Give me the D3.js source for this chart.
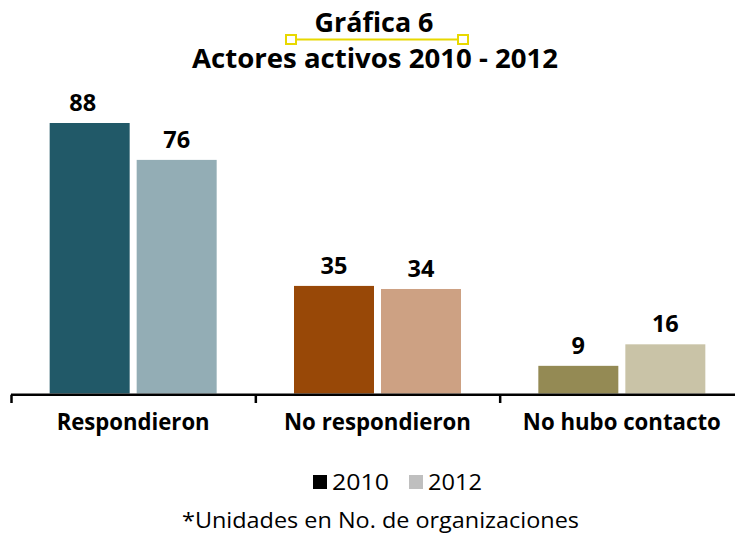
<!DOCTYPE html>
<html>
<head>
<meta charset="utf-8">
<script src="https://cdn.jsdelivr.net/npm/d3@7"></script>
<style>
  html, body { margin: 0; padding: 0; background: #fff; }
  svg { display: block; font-family: "Open Sans", Lato, sans-serif; }
</style>
</head>
<body>
<svg id="chart" width="735" height="537"></svg>
<script>
// Data
const categories = ["Respondieron", "No respondieron", "No hubo contacto"];
const series = ["2010", "2012"];
const values2010 = [88, 35, 9];
const values2012 = [76, 34, 16];
const colors2010 = ["#215968", "#984807", "#948A54"];
const colors2012 = ["#93ADB5", "#CDA183", "#C9C3A7"];
const legendColors = ["#000000", "#BFBFBF"];

const svg = d3.select("#chart");

// Fit a text element to a given advance width
function fit(sel, w) {
  return sel.attr("textLength", w).attr("lengthAdjust", "spacingAndGlyphs");
}

// Scales
const x = d3.scaleBand().domain(categories).range([11, 744]).paddingInner(0).paddingOuter(0);
const groupWidth = 167;
const xSub = d3.scaleBand().domain(series).range([0, groupWidth]).paddingInner(0.0805);
const y = d3.scaleLinear().domain([0, 88]).range([393.5, 123]);

const rows = categories.map((c, i) => ({
  cat: c,
  vals: [
    { s: "2010", v: values2010[i], color: colors2010[i] },
    { s: "2012", v: values2012[i], color: colors2012[i] }
  ]
}));

// Title
fit(svg.append("text").attr("x", 374).attr("y", 32).attr("text-anchor", "middle")
  .attr("font-size", 26).attr("font-weight", "bold").attr("fill", "#000").text("Gráfica 6"), 119);
fit(svg.append("text").attr("x", 375).attr("y", 68).attr("text-anchor", "middle")
  .attr("font-size", 26).attr("font-weight", "bold").attr("fill", "#000").text("Actores activos 2010 - 2012"), 366);

// Yellow connector under the first title line
const deco = svg.append("g").attr("stroke", "#E8D800").attr("fill", "#fff");
deco.append("line").attr("x1", 297).attr("x2", 457).attr("y1", 39.5).attr("y2", 39.5).attr("stroke-width", 2);
deco.append("rect").attr("x", 286).attr("y", 35).attr("width", 10).attr("height", 9).attr("stroke-width", 2);
deco.append("rect").attr("x", 458).attr("y", 35).attr("width", 10).attr("height", 9).attr("stroke-width", 2);

// Bars
const groups = svg.append("g").selectAll("g").data(rows).join("g")
  .attr("transform", d => `translate(${x(d.cat) + x.bandwidth() / 2 - groupWidth / 2},0)`);

groups.selectAll("rect").data(d => d.vals).join("rect")
  .attr("x", d => xSub(d.s))
  .attr("width", xSub.bandwidth())
  .attr("y", d => y(d.v))
  .attr("height", d => y(0) - y(d.v))
  .attr("fill", d => d.color);

// Value labels (the tallest one sits slightly left of its bar centre)
const labelShift = d => (d.v === d3.max(values2010.concat(values2012)) ? -7 : 0);
groups.selectAll("text").data(d => d.vals).join("text")
  .attr("x", d => xSub(d.s) + xSub.bandwidth() / 2 + labelShift(d))
  .attr("y", d => y(d.v) - 12)
  .attr("text-anchor", "middle")
  .attr("font-size", 23.5).attr("font-weight", "bold").attr("fill", "#000")
  .text(d => d.v);

// Category axis with ticks on band boundaries
const axis = svg.append("g");
const axisY = 394.75;
axis.append("line").attr("x1", x.range()[0]).attr("x2", 735)
  .attr("y1", axisY).attr("y2", axisY).attr("stroke", "#000").attr("stroke-width", 2.5);
axis.selectAll("line.tick").data(categories).join("line").attr("class", "tick")
  .attr("x1", d => x(d) + 0.5).attr("x2", d => x(d) + 0.5)
  .attr("y1", axisY).attr("y2", 403)
  .attr("stroke", "#000").attr("stroke-width", 2.5);
const catWidths = [153, 187, 198];
axis.selectAll("text").data(categories).join("text")
  .attr("x", d => x(d) + x.bandwidth() / 2)
  .attr("y", 430)
  .attr("text-anchor", "middle")
  .attr("font-size", 23).attr("font-weight", "bold").attr("fill", "#000")
  .attr("textLength", (d, i) => catWidths[i]).attr("lengthAdjust", "spacingAndGlyphs")
  .text(d => d);

// Legend
const legend = svg.append("g");
const legendX = [313, 409];
const legendW = [57, 54];
series.forEach((s, i) => {
  legend.append("rect").attr("x", legendX[i]).attr("y", 475).attr("width", 14).attr("height", 14)
    .attr("fill", legendColors[i]);
  fit(legend.append("text").attr("x", legendX[i] + 19).attr("y", 490)
    .attr("font-size", 21).attr("fill", "#000").text(s), legendW[i]);
});

// Footnote
fit(svg.append("text").attr("x", 380.5).attr("y", 528).attr("text-anchor", "middle")
  .attr("font-size", 21).attr("fill", "#000").text("*Unidades en No. de organizaciones"), 397);
</script>
</body>
</html>
